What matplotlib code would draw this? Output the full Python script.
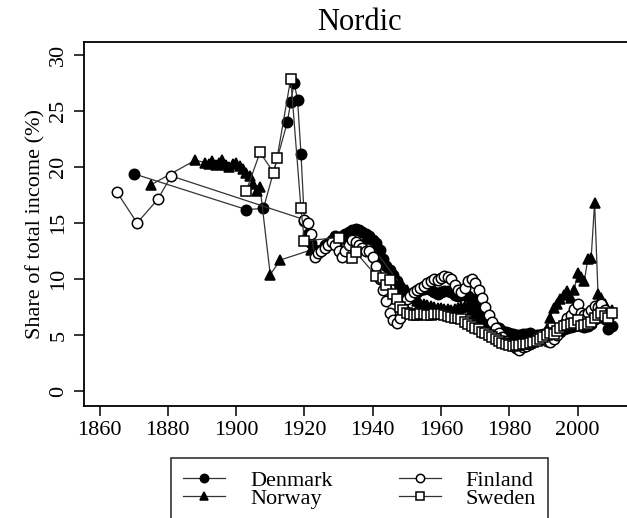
import matplotlib
matplotlib.use("Agg")
import matplotlib.pyplot as plt

plt.rcParams['font.family'] = ['Liberation Serif', 'DejaVu Serif']

# Top income shares, Nordic countries
denmark_years = [1870, 1903, 1908] + list(range(1915, 2011))
denmark_vals = [19.4, 16.2, 16.3,
                24.0, 25.8, 27.5, 26.0, 21.2, 15.2, 14.0, 13.2, 12.6, 12.4,   # 1915-1924
                12.6, 13.0, 13.2, 13.5, 13.8, 13.6, 13.8, 14.0, 14.2, 14.4,   # 1925-1934
                14.5, 14.4, 14.2, 14.0, 13.8, 13.5, 13.2, 12.6, 11.8, 11.2,   # 1935-1944
                10.8, 10.4, 9.8, 9.3, 8.9, 8.7, 8.5, 8.6, 8.8, 9.0,           # 1945-1954
                9.1, 9.2, 9.0, 8.8, 8.7, 8.8, 8.9, 8.9, 8.8, 8.6,             # 1955-1964
                8.5, 8.6, 8.7, 8.5, 8.2, 7.8, 7.3, 6.9, 6.5, 6.2,             # 1965-1974
                5.9, 5.7, 5.6, 5.4, 5.3, 5.2, 5.1, 5.0, 5.0, 5.1,             # 1975-1984
                5.1, 5.2, 5.0, 5.0, 5.0, 5.1, 5.1, 5.2, 5.2, 5.3,             # 1985-1994
                5.3, 5.5, 5.6, 5.7, 5.8, 5.9, 5.8, 5.7, 5.8, 6.0,             # 1995-2004
                6.4, 6.8, 6.9, 6.4, 5.5, 5.8]                                 # 2005-2010

norway_years = [1875, 1888] + list(range(1891, 1908)) + [1910, 1913, 1922, 1930, 1938] + list(range(1948, 2011))
norway_vals = [18.4, 20.6,
               20.4, 20.3, 20.5, 20.2, 20.4, 20.6, 20.2, 20.0, 20.3, 20.4,    # 1891-1900
               20.1, 19.8, 19.5, 19.2, 18.5, 17.9, 18.2,                      # 1901-1907
               10.4, 11.7, 12.6, 13.0, 13.6,
               9.6, 9.3, 9.0, 8.6, 8.3, 8.0, 7.9, 7.8, 7.7, 7.6, 7.5, 7.4,    # 1948-1959
               7.4, 7.3, 7.3, 7.2, 7.3, 7.4, 7.5, 7.6, 7.5, 7.2,              # 1960-1969
               6.9, 6.6, 6.3, 6.0, 5.7, 5.4, 5.1, 4.9, 4.7, 4.6,              # 1970-1979
               4.5, 4.4, 4.4, 4.5, 4.6, 4.8, 5.0, 5.0, 4.9, 4.8,              # 1980-1989
               5.0, 5.5, 6.5, 7.4, 7.8, 8.2, 8.6, 8.9, 8.3, 9.0,              # 1990-1999
               10.5, 10.2, 9.8, 11.8, 11.9, 16.8, 8.7, 8.3, 7.8, 7.0,         # 2000-2009
               7.2]

finland_years = [1865, 1871, 1877, 1881] + list(range(1920, 2010))
finland_vals = [17.8, 15.0, 17.1, 19.2,
                15.3, 15.0, 14.0, 12.0, 12.3, 12.5, 12.8, 13.0, 13.3, 13.0,   # 1920-1929
                12.5, 12.0, 12.5, 13.0, 13.5, 13.3, 13.0, 12.8, 12.5, 12.5,   # 1930-1939
                12.0, 11.2, 10.0, 9.0, 8.0, 7.0, 6.3, 6.1, 6.5, 7.4,          # 1940-1949
                8.2, 8.5, 8.8, 9.0, 9.2, 9.4, 9.6, 9.8, 10.0, 9.9,            # 1950-1959
                10.1, 10.3, 10.2, 10.0, 9.5, 9.0, 8.8, 9.2, 9.8, 10.0,        # 1960-1969
                9.6, 9.0, 8.3, 7.5, 6.8, 6.2, 5.6, 5.2, 4.8, 4.5,             # 1970-1979
                4.3, 4.0, 3.8, 3.7, 3.9, 4.0, 4.2, 4.5, 4.8, 5.0,             # 1980-1989
                4.7, 4.5, 4.4, 4.6, 5.0, 5.5, 6.0, 6.5, 6.8, 7.3,             # 1990-1999
                7.8, 7.0, 6.8, 7.0, 7.2, 7.6, 7.5, 7.8, 7.2, 6.5]             # 2000-2009

sweden_years = [1903, 1907, 1911, 1912, 1916, 1919, 1920, 1930, 1934, 1935,
                1941, 1943, 1944, 1945, 1946, 1947, 1948, 1949, 1950] + list(range(1951, 2011))
sweden_vals = [17.9, 21.3, 19.5, 20.8, 27.9, 16.3, 13.4, 13.7, 11.9, 12.4,
               10.3, 10.1, 9.5, 9.9, 8.7, 8.2, 7.5, 7.2, 7.0,
               6.9, 6.8, 6.8, 6.9, 6.9, 6.8, 6.8, 6.9, 6.9,                   # 1951-1959
               6.9, 6.8, 6.7, 6.6, 6.5, 6.5, 6.4, 6.2, 6.0, 5.8,              # 1960-1969
               5.6, 5.5, 5.3, 5.2, 5.0, 4.8, 4.6, 4.5, 4.3, 4.2,              # 1970-1979
               4.1, 4.0, 4.1, 4.1, 4.2, 4.2, 4.3, 4.4, 4.5, 4.6,              # 1980-1989
               4.8, 5.0, 5.2, 5.1, 5.4, 5.6, 5.8, 5.9, 6.0, 6.1,              # 1990-1999
               6.3, 5.8, 5.9, 6.0, 6.2, 6.5, 6.8, 7.0, 6.7, 6.5,              # 2000-2009
               7.0]

W, H = 627, 518
fig = plt.figure(figsize=(W / 100, H / 100), dpi=100)
# axes frame runs past the right edge of the picture
ax = fig.add_axes([83.5 / W, (H - 406) / H, (640 - 83.5) / W, (406 - 41.7) / H])

line_kw = dict(color='0.2', lw=0.9, markersize=7.5, markeredgewidth=1.1,
               markeredgecolor='black')
ax.plot(denmark_years, denmark_vals, marker='o', markerfacecolor='black',
        label='Denmark', **line_kw)
ax.plot(norway_years, norway_vals, marker='^', markerfacecolor='black',
        label='Norway', **line_kw)
ax.plot(finland_years, finland_vals, marker='o', markerfacecolor='white',
        label='Finland', **line_kw)
ax.plot(sweden_years, sweden_vals, marker='s', markerfacecolor='white',
        label='Sweden', **line_kw)

ax.set_xlim(1855.3, 2018.3)
ax.set_ylim(-1.34, 31.19)
ax.set_xticks(range(1860, 2001, 20))
ax.set_yticks(range(0, 31, 5))
ax.tick_params(direction='out', length=7, width=1.1, labelsize=16, color='black')
ax.tick_params(axis='y', labelrotation=90, pad=4)
for lab in ax.get_yticklabels():
    lab.set_verticalalignment('center')
for sp in ax.spines.values():
    sp.set_linewidth(1.3)
ax.set_ylabel('Share of total income (%)', fontsize=16, labelpad=3)

fig.text(359 / W, 1 - 23 / H, 'Nordic', fontsize=22, ha='center', va='center')

handles, labels = ax.get_legend_handles_labels()
leg = fig.legend(handles, labels,
                 ncol=2, loc='upper left', bbox_to_anchor=(171 / W, 1 - 458 / H),
                 fontsize=16, frameon=True, fancybox=False, borderaxespad=0,
                 handlelength=1.9, handletextpad=1.1, columnspacing=3.0,
                 labelspacing=-0.1, borderpad=0.55, markerscale=0.8)
leg.get_frame().set_edgecolor('black')
leg.get_frame().set_linewidth(1.2)

fig.savefig('out.png', dpi=100)
